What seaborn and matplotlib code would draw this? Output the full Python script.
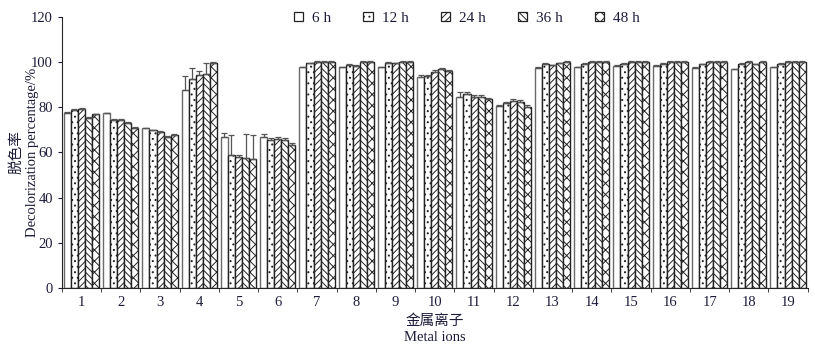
import numpy as np
import pandas as pd
import matplotlib
matplotlib.use("Agg")
import matplotlib.pyplot as plt
import seaborn as sns

# -----------------------------
# Data
# -----------------------------
ions = [str(i) for i in range(1, 20)]
hours = ["6 h", "12 h", "24 h", "36 h", "48 h"]

h6 = [77.3, 77.3, 70.6, 87.7, 67.0, 67.0, 97.7, 97.7, 97.7, 93.6, 84.7, 80.7, 97.6, 97.7, 98.4, 98.4, 97.6, 96.8, 97.7]
h12 = [78.7, 74.4, 69.8, 92.4, 58.9, 65.5, 99.5, 98.8, 99.8, 94.0, 85.8, 82.0, 99.2, 99.2, 99.2, 99.2, 99.0, 99.2, 99.2]
h24 = [79.4, 74.4, 69.0, 94.2, 58.0, 66.0, 100.0, 98.2, 99.5, 95.8, 84.4, 82.8, 98.6, 100.0, 100.0, 100.0, 100.0, 100.0, 100.0]
h36 = [75.2, 73.2, 67.0, 94.6, 57.7, 65.4, 100.0, 100.0, 100.0, 96.8, 84.4, 82.5, 99.5, 100.0, 100.0, 100.0, 100.0, 99.0, 100.0]
h48 = [76.9, 71.0, 67.9, 99.5, 57.0, 63.3, 100.0, 100.0, 100.0, 96.2, 83.7, 80.3, 100.0, 100.0, 100.0, 100.0, 100.0, 100.0, 100.0]

e6 = [0.5, 0.3, 0.3, 6.0, 1.5, 1.0, 0.3, 0.3, 0.3, 0.5, 2.0, 0.5, 0.3, 0.3, 0.3, 0.3, 0.3, 0.3, 0.3]
e12 = [0.5, 0.3, 0.3, 5.0, 8.6, 1.0, 0.3, 0.3, 0.3, 0.5, 1.0, 0.5, 0.3, 0.3, 0.3, 0.3, 0.3, 0.3, 0.3]
e24 = [0.3, 0.3, 0.3, 2.0, 1.0, 1.0, 0.3, 0.3, 0.3, 0.5, 1.0, 1.0, 0.3, 0.3, 0.3, 0.3, 0.3, 0.3, 0.3]
e36 = [0.3, 0.3, 0.3, 5.0, 10.3, 1.0, 0.3, 0.3, 0.3, 0.5, 1.0, 0.5, 0.3, 0.3, 0.3, 0.3, 0.3, 0.3, 0.3]
e48 = [0.3, 0.3, 0.3, 0.5, 10.5, 1.0, 0.3, 0.3, 0.3, 0.5, 0.5, 0.5, 0.3, 0.3, 0.3, 0.3, 0.3, 0.3, 0.3]

values = [h6, h12, h24, h36, h48]
errors = [e6, e12, e24, e36, e48]
hatches = ["", "...", "/////", "\\\\\\\\\\", "xxx"]

df = pd.DataFrame({
    "ion": np.tile(ions, len(hours)),
    "hour": np.repeat(hours, len(ions)),
    "value": np.concatenate(values),
})

# -----------------------------
# Style
# -----------------------------
sns.set_style("ticks")
plt.rcParams["font.family"] = ["Liberation Serif", "Noto Sans CJK SC"]
plt.rcParams["hatch.linewidth"] = 0.7
text_color = "#1c1c3a"
edge = "#222222"

fig = plt.figure(figsize=(8.15, 3.46), dpi=100)
ax = fig.add_axes([0.076, 0.168, 0.915, 0.783])

sns.barplot(
    data=df, x="ion", y="value", hue="hour", order=ions, hue_order=hours,
    palette=["white"] * len(hours), edgecolor=edge, linewidth=1.0,
    width=0.9, errorbar=None, legend=False, ax=ax,
)

for cont, hatch, err in zip(ax.containers, hatches, errors):
    xs, ys = [], []
    for bar in cont:
        bar.set_hatch(hatch)
        xs.append(bar.get_x() + bar.get_width() / 2)
        ys.append(bar.get_height())
    ax.errorbar(xs, ys, yerr=[np.zeros(len(err)), err], fmt="none",
                ecolor="#555555", elinewidth=0.9, capsize=2, capthick=0.9)

# 6 h bars have a lighter outline
for bar in ax.containers[0]:
    bar.set_edgecolor("#6a6a6a")

ax.set_ylim(0, 120)
ax.set_yticks(range(0, 121, 20))
ax.set_xlim(-0.5, len(ions) - 0.5)
ax.set_xticks(np.arange(len(ions)))
ax.set_xticks(np.arange(len(ions) + 1) - 0.5, minor=True)
ax.tick_params(axis="x", which="major", length=0, pad=6, labelsize=10.5, colors=text_color)
ax.tick_params(axis="x", which="minor", length=3, direction="out")
ax.tick_params(axis="y", length=3, labelsize=10.5, colors=text_color)
sns.despine(ax=ax)

ax.set_ylabel("脱色率\nDecolorization percentage/%", fontsize=10.5, color=text_color, linespacing=1.25)
ax.yaxis.set_label_coords(-0.031, 0.5)
ax.set_xlabel("金属离子\nMetal ions", fontsize=10.5, color=text_color, linespacing=1.3)

handles = [plt.Rectangle((0, 0), 1, 1, facecolor="white", edgecolor=edge,
                         hatch=h, linewidth=0.9) for h in hatches]
ax.legend(handles, hours, ncol=5, loc="upper center", bbox_to_anchor=(0.543, 1.07),
          frameon=False, handlelength=0.6, handleheight=0.6, columnspacing=2.1,
          handletextpad=0.6, fontsize=11, labelcolor=text_color)

fig.savefig("out.png", dpi=100)
plt.close(fig)
